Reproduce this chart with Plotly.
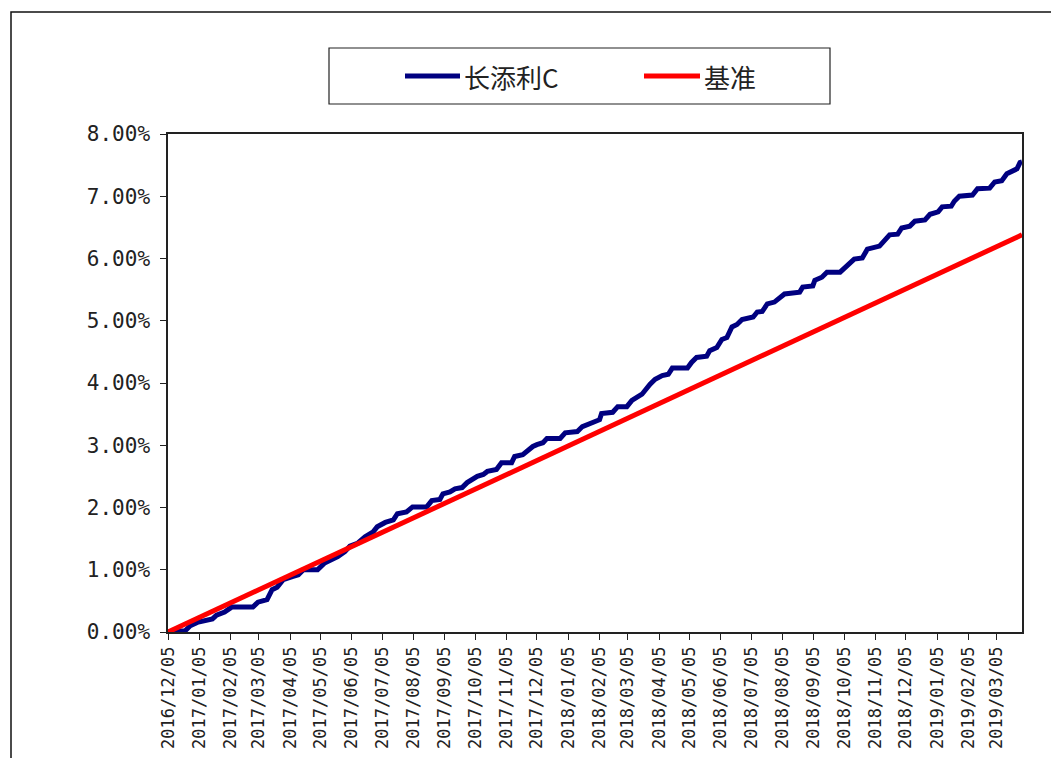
import pandas as pd
import plotly.graph_objects as go

# ---- data ----
base_date = "2016-12-05"
end_date = "2019-03-30"

# 长添利C: day offset from base_date, cumulative return in %
fund_days = [0, 17, 22, 30, 44, 48, 56, 63, 84, 89, 98, 103, 108, 114, 123, 129, 134,
             148, 155, 162, 168, 175, 180, 188, 195, 203, 207, 215,
             223, 227, 236, 242, 256, 261, 269, 272, 279, 284, 291, 296, 306, 312, 316,
             325, 330, 340, 343, 351, 355, 361, 365, 371, 375, 388, 393, 405, 410, 415,
             427, 429,
             440, 445, 454, 459, 464, 469, 477, 482, 489, 495, 499, 514, 518, 523, 533,
             536, 543, 548, 553, 558, 563, 568, 579, 583, 588, 593, 600, 607, 610, 625,
             628, 638,
             640, 647, 652, 665, 672, 679, 687, 692, 704, 709, 714, 722, 726, 734, 739,
             749, 754, 762, 766, 775, 778, 783, 796, 801, 813, 818, 825, 830, 840, 843, 845]
fund_vals = [0.00, 0.02, 0.10, 0.16, 0.21, 0.27, 0.32, 0.40, 0.40, 0.48, 0.52, 0.68, 0.72,
             0.84, 0.89, 0.92, 1.00,
             1.00, 1.11, 1.16, 1.21, 1.29, 1.38, 1.43, 1.53, 1.61, 1.69, 1.76,
             1.80, 1.90, 1.93, 2.01, 2.01, 2.11, 2.13, 2.22, 2.25, 2.30, 2.32, 2.40, 2.50,
             2.53, 2.58, 2.61, 2.72, 2.72, 2.82, 2.85, 2.91, 2.98, 3.01, 3.04, 3.11, 3.11,
             3.20, 3.22, 3.30, 3.33, 3.41, 3.51,
             3.53, 3.62, 3.62, 3.72, 3.78, 3.82, 3.98, 4.06, 4.12, 4.14, 4.24, 4.24, 4.33,
             4.41, 4.43, 4.52, 4.57, 4.70, 4.73, 4.90, 4.94, 5.02, 5.06, 5.14, 5.15, 5.27,
             5.30, 5.38, 5.43, 5.46, 5.54, 5.56,
             5.65, 5.70, 5.78, 5.78, 5.88, 5.99, 6.01, 6.15, 6.20, 6.28, 6.38, 6.39, 6.49,
             6.52, 6.60, 6.62, 6.71, 6.75, 6.83, 6.84, 6.92, 7.00, 7.02, 7.12, 7.13, 7.23,
             7.25, 7.36, 7.44, 7.54, 7.55]

# 基准 (benchmark)
bench_days = [0, 396, 845]
bench_vals = [0.00, 2.99, 6.38]

series_names = ["长添利C", "基准"]
series_colors = ["#000080", "#FF0000"]

y_ticks = [0, 0.01, 0.02, 0.03, 0.04, 0.05, 0.06, 0.07, 0.08]

# ---- build ----
b = pd.Timestamp(base_date)
fund_x = [b + pd.Timedelta(days=d) for d in fund_days]
bench_x = [b + pd.Timedelta(days=d) for d in bench_days]
fund_y = [v / 100 for v in fund_vals]
bench_y = [v / 100 for v in bench_vals]

tick_dates = pd.date_range("2016-12-01", "2019-03-01", freq="MS") + pd.Timedelta(days=4)
tick_text = [d.strftime("%Y/%m/%d") for d in tick_dates]

LW = 5
fig = go.Figure()
fig.add_trace(go.Scatter(x=fund_x, y=fund_y, mode="lines", name=series_names[0],
                         showlegend=False, line=dict(color=series_colors[0], width=LW)))
fig.add_trace(go.Scatter(x=bench_x, y=bench_y, mode="lines", name=series_names[1],
                         showlegend=False, line=dict(color=series_colors[1], width=LW)))

# plot area in page pixels: x 168..1022, y 134..632 (page has an 8px body margin)
PL, PR, PT, PB = 168, 1022, 134, 632
def px(x):
    return (x - PL) / (PR - PL)
def py(y):
    return (PB - y) / (PB - PT)

text_col = "#222222"
shapes = [
    # outer chart border
    dict(type="rect", xref="paper", yref="paper",
         x0=px(11), x1=px(1075), y0=py(775), y1=py(12),
         line=dict(color="#111111", width=1.5), layer="below"),
    # legend box
    dict(type="rect", xref="paper", yref="paper",
         x0=px(329), x1=px(830), y0=py(104), y1=py(48),
         line=dict(color="#222222", width=1.2), fillcolor="white"),
    # legend samples
    dict(type="line", xref="paper", yref="paper", x0=px(405), x1=px(460), y0=py(76), y1=py(76),
         line=dict(color=series_colors[0], width=5)),
    dict(type="line", xref="paper", yref="paper", x0=px(644), x1=px(700), y0=py(76), y1=py(76),
         line=dict(color=series_colors[1], width=5)),
]
annotations = [
    dict(text=series_names[0], xref="paper", yref="paper", x=px(462), y=py(76),
         xanchor="left", yanchor="middle", showarrow=False,
         font=dict(family="Noto Sans CJK SC", size=26, color=text_col)),
    dict(text=series_names[1], xref="paper", yref="paper", x=px(702), y=py(76),
         xanchor="left", yanchor="middle", showarrow=False,
         font=dict(family="Noto Sans CJK SC", size=26, color=text_col)),
]

fig.update_layout(
    width=1059, height=758,
    margin=dict(l=PL - 8, r=1059 + 8 - PR, t=PT - 8, b=758 + 8 - PB),
    paper_bgcolor="white", plot_bgcolor="white",
    showlegend=False,
    xaxis=dict(type="date", range=[base_date, end_date],
               tickvals=list(tick_dates), ticktext=tick_text, tickangle=-90,
               ticks="outside", ticklen=6, tickcolor=text_col,
               showline=True, linecolor=text_col, linewidth=1.5, mirror=True,
               showgrid=False, zeroline=False,
               tickfont=dict(family="DejaVu Sans Mono", size=17, color=text_col)),
    yaxis=dict(range=[0, 0.08], tickvals=y_ticks, tickformat=".2%",
               ticks="outside", ticklen=6, tickcolor=text_col,
               showline=True, linecolor=text_col, linewidth=1.5, mirror=True,
               showgrid=False, zeroline=False, ticklabelstandoff=6,
               tickfont=dict(family="DejaVu Sans Mono", size=21, color=text_col)),
    shapes=shapes,
    annotations=annotations,
)

fig.write_html("out.html")
